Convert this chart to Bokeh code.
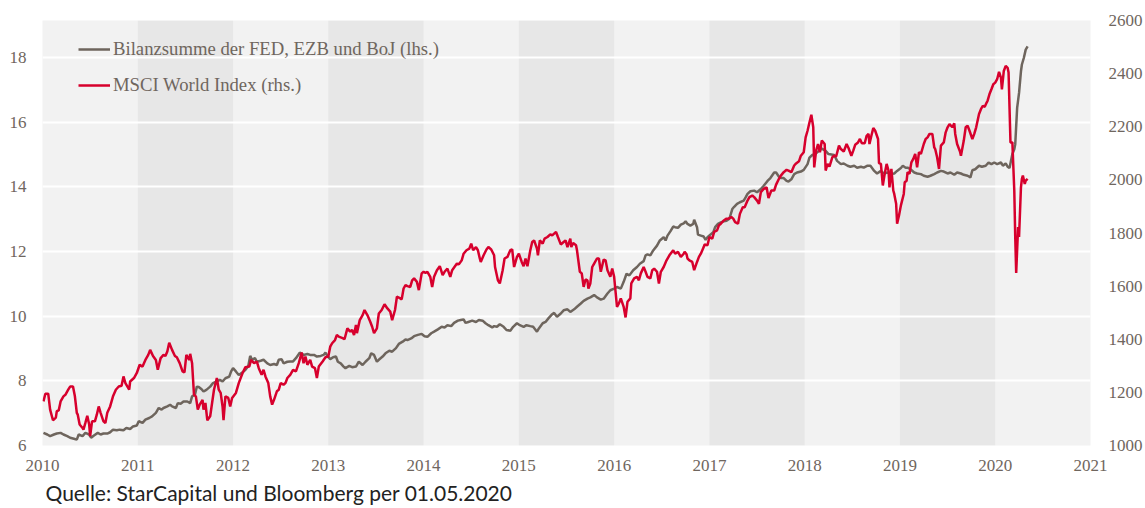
from bokeh.plotting import figure
from bokeh.models import (Range1d, LinearAxis, FixedTicker, BoxAnnotation, Title,
                          Legend, LegendItem, ColumnDataSource)
from bokeh.embed import file_html
from bokeh.resources import INLINE

# ---------------- data ----------------
years = list(range(2010, 2022))
x_tick_labels = [str(y) for y in years]
left_ticks = [6, 8, 10, 12, 14, 16, 18]
right_ticks = [1000, 1200, 1400, 1600, 1800, 2000, 2200, 2400, 2600]
shaded_years = [2011, 2013, 2015, 2017, 2019]

series_names = ["Bilanzsumme der FED, EZB und BoJ (lhs.)", "MSCI World Index (rhs.)"]

# Balance sheet of FED, ECB and BoJ (left axis)
bal_t = [2010.01, 2010.05, 2010.08, 2010.12, 2010.15, 2010.19, 2010.22, 2010.26, 2010.29, 2010.33,
         2010.36, 2010.38, 2010.42, 2010.45, 2010.49, 2010.51, 2010.54, 2010.58, 2010.61, 2010.64,
         2010.68, 2010.71, 2010.74, 2010.78, 2010.81, 2010.85, 2010.88, 2010.92, 2010.95, 2010.99,
         2011.01, 2011.05, 2011.08, 2011.12, 2011.15, 2011.19, 2011.22, 2011.25, 2011.27, 2011.31,
         2011.34, 2011.36, 2011.40, 2011.42, 2011.45, 2011.48, 2011.52, 2011.55, 2011.57, 2011.60,
         2011.62, 2011.64, 2011.67, 2011.69, 2011.72, 2011.76, 2011.79, 2011.83, 2011.86, 2011.89,
         2011.92, 2011.96, 2011.98, 2012.00, 2012.03, 2012.06, 2012.10, 2012.13, 2012.16, 2012.18,
         2012.20, 2012.23, 2012.25, 2012.29, 2012.32, 2012.36, 2012.39, 2012.43, 2012.46, 2012.48,
         2012.51, 2012.53, 2012.57, 2012.60, 2012.63, 2012.66, 2012.70, 2012.74, 2012.78, 2012.81,
         2012.85, 2012.88, 2012.92, 2012.95, 2012.97, 2012.99, 2013.02, 2013.05, 2013.08, 2013.10,
         2013.13, 2013.16, 2013.18, 2013.22, 2013.25, 2013.29, 2013.32, 2013.36, 2013.39, 2013.43,
         2013.45, 2013.48, 2013.51, 2013.53, 2013.57, 2013.60, 2013.64, 2013.67, 2013.71, 2013.74,
         2013.78, 2013.81, 2013.83, 2013.87, 2013.90, 2013.94, 2013.98, 2014.01, 2014.04, 2014.08,
         2014.11, 2014.15, 2014.19, 2014.22, 2014.25, 2014.29, 2014.32, 2014.36, 2014.39, 2014.42,
         2014.44, 2014.47, 2014.51, 2014.55, 2014.58, 2014.62, 2014.65, 2014.68, 2014.72, 2014.74,
         2014.77, 2014.80, 2014.84, 2014.87, 2014.91, 2014.94, 2014.98, 2015.01, 2015.05, 2015.08,
         2015.12, 2015.15, 2015.19, 2015.21, 2015.25, 2015.28, 2015.31, 2015.35, 2015.37, 2015.40,
         2015.44, 2015.47, 2015.51, 2015.54, 2015.58, 2015.61, 2015.65, 2015.68, 2015.72, 2015.75,
         2015.79, 2015.82, 2015.86, 2015.89, 2015.93, 2015.96, 2016.00, 2016.03, 2016.07, 2016.10,
         2016.13, 2016.16, 2016.20, 2016.24, 2016.27, 2016.31, 2016.33, 2016.35, 2016.38, 2016.41,
         2016.45, 2016.48, 2016.52, 2016.54, 2016.56, 2016.59, 2016.62, 2016.64, 2016.67, 2016.70,
         2016.73, 2016.75, 2016.77, 2016.80, 2016.83, 2016.84, 2016.87, 2016.88, 2016.91, 2016.94,
         2016.96, 2016.98, 2017.01, 2017.04, 2017.06, 2017.09, 2017.12, 2017.15, 2017.18, 2017.21,
         2017.24, 2017.26, 2017.29, 2017.32, 2017.36, 2017.38, 2017.40, 2017.43, 2017.47, 2017.50,
         2017.54, 2017.57, 2017.61, 2017.64, 2017.68, 2017.70, 2017.73, 2017.75, 2017.78, 2017.81,
         2017.83, 2017.86, 2017.89, 2017.92, 2017.96, 2017.99, 2018.03, 2018.05, 2018.08, 2018.11,
         2018.15, 2018.18, 2018.22, 2018.25, 2018.31, 2018.34, 2018.38, 2018.41, 2018.45, 2018.48,
         2018.52, 2018.55, 2018.59, 2018.62, 2018.66, 2018.69, 2018.73, 2018.76, 2018.80, 2018.83,
         2018.87, 2018.90, 2018.94, 2018.97, 2019.01, 2019.03, 2019.06, 2019.08, 2019.11, 2019.15,
         2019.18, 2019.22, 2019.25, 2019.29, 2019.32, 2019.36, 2019.39, 2019.43, 2019.46, 2019.50,
         2019.53, 2019.57, 2019.60, 2019.64, 2019.67, 2019.71, 2019.74, 2019.76, 2019.79, 2019.83,
         2019.86, 2019.90, 2019.93, 2019.96, 2019.99, 2020.02, 2020.06, 2020.08, 2020.11, 2020.13,
         2020.15, 2020.18, 2020.20, 2020.21, 2020.23, 2020.25, 2020.27, 2020.28, 2020.30, 2020.32,
         2020.34]
bal_v = [6.39, 6.34, 6.29, 6.34, 6.37, 6.39, 6.34, 6.29, 6.24, 6.21,
         6.18, 6.34, 6.29, 6.39, 6.34, 6.24, 6.31, 6.39, 6.34, 6.37,
         6.37, 6.41, 6.49, 6.47, 6.49, 6.47, 6.54, 6.51, 6.59, 6.62,
         6.75, 6.70, 6.80, 6.85, 6.90, 7.01, 7.16, 7.11, 7.16, 7.21,
         7.26, 7.21, 7.16, 7.31, 7.29, 7.36, 7.36, 7.31, 7.52, 7.57,
         7.82, 7.81, 7.74, 7.67, 7.72, 7.82, 7.93, 7.98, 8.03, 7.98,
         8.08, 8.13, 8.29, 8.39, 8.29, 8.18, 8.26, 8.34, 8.46, 8.77,
         8.65, 8.70, 8.59, 8.62, 8.65, 8.54, 8.49, 8.52, 8.49, 8.65,
         8.67, 8.54, 8.59, 8.60, 8.60, 8.70, 8.87, 8.80, 8.83, 8.80,
         8.80, 8.75, 8.77, 8.80, 8.87, 8.77, 8.67, 8.73, 8.75, 8.59,
         8.54, 8.44, 8.39, 8.46, 8.42, 8.44, 8.59, 8.49, 8.59, 8.70,
         8.85, 8.80, 8.59, 8.65, 8.75, 8.85, 8.93, 8.90, 9.01, 9.14,
         9.21, 9.28, 9.26, 9.31, 9.38, 9.42, 9.45, 9.38, 9.36, 9.47,
         9.52, 9.59, 9.67, 9.65, 9.72, 9.69, 9.79, 9.86, 9.88, 9.90,
         9.79, 9.82, 9.86, 9.82, 9.88, 9.86, 9.78, 9.72, 9.65, 9.69,
         9.67, 9.75, 9.67, 9.57, 9.55, 9.67, 9.78, 9.72, 9.67, 9.72,
         9.69, 9.67, 9.52, 9.62, 9.78, 9.82, 9.93, 10.06, 10.10, 9.98,
         10.08, 10.18, 10.21, 10.13, 10.21, 10.29, 10.39, 10.47, 10.54, 10.58,
         10.65, 10.58, 10.51, 10.54, 10.70, 10.80, 10.85, 10.90, 10.85, 11.06,
         11.31, 11.26, 11.42, 11.52, 11.62, 11.70, 11.88, 11.91, 11.88, 12.03,
         12.18, 12.34, 12.44, 12.34, 12.49, 12.62, 12.77, 12.75, 12.73, 12.83,
         12.87, 12.93, 12.85, 12.80, 12.85, 12.98, 12.75, 12.52, 12.49, 12.46,
         12.36, 12.44, 12.52, 12.59, 12.75, 12.85, 12.90, 12.93, 12.95, 13.01,
         13.31, 13.38, 13.47, 13.52, 13.57, 13.67, 13.78, 13.86, 13.88, 13.83,
         13.93, 14.03, 14.18, 14.27, 14.44, 14.44, 14.31, 14.27, 14.27, 14.18,
         14.16, 14.23, 14.39, 14.44, 14.47, 14.52, 14.70, 14.90, 14.98, 15.01,
         15.11, 15.18, 15.11, 15.01, 14.98, 14.80, 14.70, 14.72, 14.65, 14.62,
         14.65, 14.59, 14.62, 14.59, 14.65, 14.65, 14.49, 14.41, 14.49, 14.41,
         14.44, 14.39, 14.41, 14.49, 14.58, 14.65, 14.59, 14.59, 14.54, 14.44,
         14.41, 14.39, 14.34, 14.31, 14.34, 14.39, 14.44, 14.49, 14.47, 14.41,
         14.44, 14.37, 14.44, 14.41, 14.37, 14.34, 14.29, 14.51, 14.54, 14.65,
         14.62, 14.65, 14.75, 14.70, 14.75, 14.70, 14.75, 14.65, 14.72, 14.62,
         14.58, 15.01, 15.16, 15.31, 16.44, 16.90, 17.57, 17.78, 17.98, 18.24,
         18.34]

# MSCI World Index (right axis)
msci_t = [2010.01, 2010.03, 2010.06, 2010.08, 2010.11, 2010.14, 2010.15, 2010.17, 2010.19, 2010.22,
          2010.24, 2010.27, 2010.29, 2010.32, 2010.34, 2010.36, 2010.37, 2010.39, 2010.42, 2010.43,
          2010.45, 2010.47, 2010.49, 2010.50, 2010.52, 2010.55, 2010.57, 2010.59, 2010.61, 2010.64,
          2010.66, 2010.68, 2010.71, 2010.74, 2010.77, 2010.80, 2010.83, 2010.85, 2010.87, 2010.91,
          2010.92, 2010.96, 2010.99, 2011.02, 2011.05, 2011.08, 2011.11, 2011.13, 2011.16, 2011.19,
          2011.21, 2011.24, 2011.27, 2011.29, 2011.31, 2011.33, 2011.36, 2011.39, 2011.41, 2011.44,
          2011.47, 2011.49, 2011.51, 2011.54, 2011.55, 2011.57, 2011.59, 2011.61, 2011.63, 2011.65,
          2011.68, 2011.69, 2011.71, 2011.73, 2011.76, 2011.78, 2011.80, 2011.83, 2011.85, 2011.87,
          2011.89, 2011.90, 2011.92, 2011.95, 2011.97, 2011.99, 2012.03, 2012.06, 2012.10, 2012.13,
          2012.17, 2012.19, 2012.22, 2012.25, 2012.27, 2012.30, 2012.32, 2012.34, 2012.37, 2012.39,
          2012.41, 2012.43, 2012.46, 2012.48, 2012.50, 2012.53, 2012.55, 2012.57, 2012.60, 2012.63,
          2012.66, 2012.69, 2012.72, 2012.74, 2012.76, 2012.78, 2012.81, 2012.83, 2012.86, 2012.88,
          2012.90, 2012.94, 2012.97, 2013.00, 2013.02, 2013.04, 2013.07, 2013.09, 2013.11, 2013.15,
          2013.17, 2013.20, 2013.23, 2013.25, 2013.27, 2013.29, 2013.30, 2013.33, 2013.36, 2013.38,
          2013.41, 2013.44, 2013.46, 2013.48, 2013.51, 2013.53, 2013.56, 2013.59, 2013.62, 2013.65,
          2013.67, 2013.70, 2013.72, 2013.74, 2013.77, 2013.79, 2013.81, 2013.83, 2013.86, 2013.88,
          2013.90, 2013.93, 2013.95, 2013.98, 2014.00, 2014.02, 2014.04, 2014.07, 2014.09, 2014.11,
          2014.14, 2014.17, 2014.20, 2014.22, 2014.25, 2014.28, 2014.30, 2014.32, 2014.35, 2014.37,
          2014.40, 2014.42, 2014.45, 2014.48, 2014.50, 2014.52, 2014.55, 2014.57, 2014.59, 2014.60,
          2014.63, 2014.66, 2014.68, 2014.71, 2014.74, 2014.75, 2014.78, 2014.80, 2014.83, 2014.85,
          2014.88, 2014.91, 2014.93, 2014.95, 2014.98, 2015.00, 2015.03, 2015.05, 2015.07, 2015.09,
          2015.12, 2015.14, 2015.16, 2015.19, 2015.20, 2015.22, 2015.25, 2015.27, 2015.30, 2015.33,
          2015.35, 2015.39, 2015.41, 2015.44, 2015.47, 2015.49, 2015.51, 2015.54, 2015.55, 2015.57,
          2015.60, 2015.61, 2015.64, 2015.66, 2015.68, 2015.70, 2015.72, 2015.73, 2015.75, 2015.77,
          2015.79, 2015.82, 2015.84, 2015.86, 2015.89, 2015.91, 2015.93, 2015.96, 2015.98, 2016.00,
          2016.01, 2016.03, 2016.05, 2016.07, 2016.10, 2016.12, 2016.14, 2016.17, 2016.18, 2016.21,
          2016.24, 2016.26, 2016.28, 2016.31, 2016.33, 2016.35, 2016.38, 2016.40, 2016.42, 2016.45,
          2016.47, 2016.49, 2016.52, 2016.55, 2016.58, 2016.62, 2016.64, 2016.67, 2016.70, 2016.73,
          2016.74, 2016.76, 2016.77, 2016.79, 2016.82, 2016.84, 2016.87, 2016.89, 2016.91, 2016.94,
          2016.95, 2016.98, 2017.00, 2017.03, 2017.05, 2017.08, 2017.10, 2017.12, 2017.15, 2017.18,
          2017.20, 2017.23, 2017.25, 2017.27, 2017.30, 2017.32, 2017.35, 2017.37, 2017.40, 2017.42,
          2017.45, 2017.47, 2017.50, 2017.52, 2017.54, 2017.57, 2017.60, 2017.62, 2017.65, 2017.68,
          2017.70, 2017.73, 2017.75, 2017.78, 2017.81, 2017.83, 2017.86, 2017.89, 2017.91, 2017.94,
          2017.96, 2017.99, 2018.01, 2018.03, 2018.05, 2018.07, 2018.09, 2018.10, 2018.12, 2018.14,
          2018.16, 2018.18, 2018.21, 2018.22, 2018.24, 2018.26, 2018.29, 2018.31, 2018.33, 2018.36,
          2018.38, 2018.41, 2018.44, 2018.46, 2018.49, 2018.51, 2018.53, 2018.56, 2018.58, 2018.60,
          2018.63, 2018.65, 2018.67, 2018.68, 2018.70, 2018.72, 2018.74, 2018.77, 2018.78, 2018.80,
          2018.82, 2018.84, 2018.86, 2018.88, 2018.89, 2018.91, 2018.93, 2018.94, 2018.96, 2018.97,
          2018.99, 2019.01, 2019.04, 2019.05, 2019.07, 2019.08, 2019.10, 2019.12, 2019.14, 2019.16,
          2019.18, 2019.20, 2019.22, 2019.25, 2019.27, 2019.29, 2019.31, 2019.34, 2019.36, 2019.37,
          2019.39, 2019.41, 2019.43, 2019.46, 2019.48, 2019.50, 2019.52, 2019.55, 2019.57, 2019.58,
          2019.60, 2019.63, 2019.64, 2019.67, 2019.69, 2019.71, 2019.73, 2019.76, 2019.78, 2019.80,
          2019.83, 2019.85, 2019.87, 2019.89, 2019.91, 2019.92, 2019.94, 2019.96, 2019.98, 2020.00,
          2020.02, 2020.04, 2020.06, 2020.07, 2020.09, 2020.11, 2020.13, 2020.14, 2020.16, 2020.18,
          2020.20, 2020.21, 2020.22, 2020.24, 2020.25, 2020.27, 2020.28, 2020.29, 2020.31, 2020.32,
          2020.34]
msci_v = [1166, 1195, 1195, 1135, 1095, 1105, 1129, 1132, 1166, 1185,
          1191, 1210, 1222, 1222, 1185, 1123, 1116, 1079, 1066, 1060,
          1085, 1112, 1079, 1035, 1091, 1091, 1116, 1147, 1123, 1091,
          1085, 1123, 1147, 1185, 1210, 1222, 1225, 1260, 1235, 1210,
          1241, 1254, 1273, 1304, 1297, 1322, 1341, 1360, 1337, 1322,
          1285, 1329, 1341, 1337, 1354, 1387, 1360, 1337, 1332, 1310,
          1279, 1275, 1341, 1322, 1345, 1310, 1191, 1185, 1135, 1154,
          1172, 1135, 1160, 1095, 1110, 1160, 1210, 1254, 1210, 1198,
          1147, 1095, 1185, 1179, 1147, 1179, 1198, 1235, 1273, 1295,
          1297, 1322, 1310, 1316, 1291, 1266, 1285, 1260, 1235, 1185,
          1154, 1172, 1204, 1210, 1235, 1229, 1235, 1254, 1266, 1285,
          1279, 1310, 1350, 1310, 1335, 1304, 1322, 1297, 1291, 1254,
          1297, 1316, 1332, 1335, 1372, 1385, 1397, 1416, 1410, 1404,
          1400, 1441, 1429, 1435, 1416, 1454, 1423, 1472, 1491, 1510,
          1491, 1466, 1447, 1423, 1441, 1497, 1510, 1532, 1516, 1504,
          1472, 1510, 1560, 1557, 1550, 1591, 1604, 1600, 1597, 1622,
          1629, 1616, 1585, 1648, 1654, 1650, 1654, 1635, 1597, 1635,
          1660, 1675, 1641, 1654, 1666, 1635, 1660, 1670, 1685, 1682,
          1697, 1722, 1735, 1741, 1760, 1735, 1747, 1735, 1704, 1691,
          1716, 1738, 1747, 1738, 1716, 1672, 1622, 1610, 1660, 1704,
          1710, 1735, 1738, 1672, 1710, 1722, 1691, 1675, 1704, 1675,
          1735, 1766, 1772, 1741, 1716, 1772, 1760, 1779, 1785, 1795,
          1791, 1804, 1785, 1757, 1766, 1772, 1747, 1779, 1747, 1762,
          1754, 1735, 1654, 1648, 1597, 1625, 1622, 1591, 1610, 1672,
          1685, 1704, 1704, 1654, 1700, 1697, 1660, 1635, 1666, 1635,
          1597, 1522, 1535, 1554, 1522, 1482, 1541, 1554, 1610, 1629,
          1635, 1622, 1648, 1672, 1654, 1635, 1629, 1660, 1666, 1654,
          1610, 1654, 1672, 1697, 1716, 1735, 1722, 1729, 1710, 1722,
          1729, 1720, 1704, 1697, 1691, 1660, 1691, 1710, 1722, 1747,
          1757, 1754, 1785, 1779, 1804, 1810, 1829, 1835, 1847, 1854,
          1854, 1860, 1854, 1841, 1835, 1872, 1897, 1897, 1922, 1935,
          1941, 1935, 1922, 1910, 1954, 1966, 1972, 1932, 1960, 1960,
          1982, 2004, 2016, 2029, 2038, 2035, 2029, 2054, 2062, 2070,
          2091, 2104, 2160, 2185, 2216, 2245, 2198, 2047, 2110, 2135,
          2104, 2148, 2135, 2035, 2060, 2050, 2085, 2091, 2088, 2129,
          2116, 2107, 2135, 2120, 2091, 2110, 2132, 2141, 2154, 2138,
          2138, 2166, 2173, 2135, 2166, 2195, 2185, 2154, 2063, 2060,
          1979, 2023, 2060, 2035, 1972, 2041, 1960, 1947, 1910, 1835,
          1866, 1904, 1947, 1991, 1997, 2029, 2023, 2066, 2079, 2098,
          2047, 2104, 2098, 2135, 2154, 2160, 2173, 2173, 2122, 2116,
          2085, 2041, 2129, 2141, 2179, 2198, 2210, 2198, 2213, 2173,
          2135, 2107, 2091, 2148, 2198, 2204, 2185, 2154, 2173, 2198,
          2248, 2266, 2279, 2275, 2291, 2298, 2323, 2341, 2360, 2366,
          2379, 2407, 2385, 2341, 2410, 2429, 2422, 2404, 2141, 2141,
          1960, 1785, 1650, 1822, 1785, 1972, 2004, 2016, 1985, 1997,
          2004]

source_text = "Quelle: StarCapital und Bloomberg per 01.05.2020"

# ---------------- styling ----------------
TEXT_COL = "#6f665e"
GREY_COL = "#6e655d"
RED_COL = "#d7002d"
SERIF = "Liberation Serif"

p = figure(width=1145, height=508, output_backend="svg", toolbar_location=None,
           x_range=Range1d(2010, 2021), y_range=Range1d(6, 19.14),
           min_border_left=42, min_border_right=55, min_border_top=20, min_border_bottom=61)
p.extra_y_ranges = {"right": Range1d(1000, 2600)}

p.background_fill_color = "#f2f2f2"
p.border_fill_color = "white"
p.outline_line_color = None

for yr in shaded_years:
    p.add_layout(BoxAnnotation(left=yr, right=yr + 1, fill_color="#e7e7e7", fill_alpha=1.0,
                               line_color=None, level="image"))

p.xgrid.grid_line_color = None
p.ygrid.grid_line_color = "white"
p.ygrid.grid_line_width = 2
p.ygrid.ticker = FixedTicker(ticks=left_ticks)

src_bal = ColumnDataSource(dict(t=bal_t, v=bal_v))
src_msci = ColumnDataSource(dict(t=msci_t, v=msci_v))
r_bal = p.line("t", "v", source=src_bal, line_color=GREY_COL, line_width=2.5)
r_msci = p.line("t", "v", source=src_msci, line_color=RED_COL, line_width=2.5, y_range_name="right")

# axes
xa = p.xaxis[0]
xa.ticker = FixedTicker(ticks=years)
xa.major_label_overrides = {y: s for y, s in zip(years, x_tick_labels)}
ya = p.yaxis[0]
ya.ticker = FixedTicker(ticks=left_ticks)
ra = LinearAxis(y_range_name="right", ticker=FixedTicker(ticks=right_ticks))
p.add_layout(ra, "right")

for ax in (xa, ya, ra):
    ax.axis_line_color = None
    ax.major_tick_line_color = None
    ax.minor_tick_line_color = None
    ax.major_tick_out = 0
    ax.major_tick_in = 0
    ax.major_label_text_font = SERIF
    ax.major_label_text_font_size = "17px"
    ax.major_label_text_color = TEXT_COL
xa.major_label_standoff = 14
ya.major_label_standoff = 16
ra.major_label_standoff = 18

legend = Legend(items=[LegendItem(label=series_names[0], renderers=[r_bal]),
                       LegendItem(label=series_names[1], renderers=[r_msci])],
                location=(36, 349))
legend.border_line_color = None
legend.background_fill_alpha = 0
legend.padding = 0
legend.margin = 0
legend.spacing = 14
legend.glyph_width = 32
legend.glyph_height = 20
legend.label_height = 20
legend.label_standoff = 3
legend.label_text_font = SERIF
legend.label_text_font_size = "18.7px"
legend.label_text_color = TEXT_COL
p.add_layout(legend)

src_title = Title(text=source_text, align="left", offset=3, text_font="Lato",
                  text_font_size="21px", text_font_style="normal", text_color="#222222",
                  standoff=8)
p.add_layout(src_title, "below")

open("out.html", "w").write(file_html(p, INLINE))
